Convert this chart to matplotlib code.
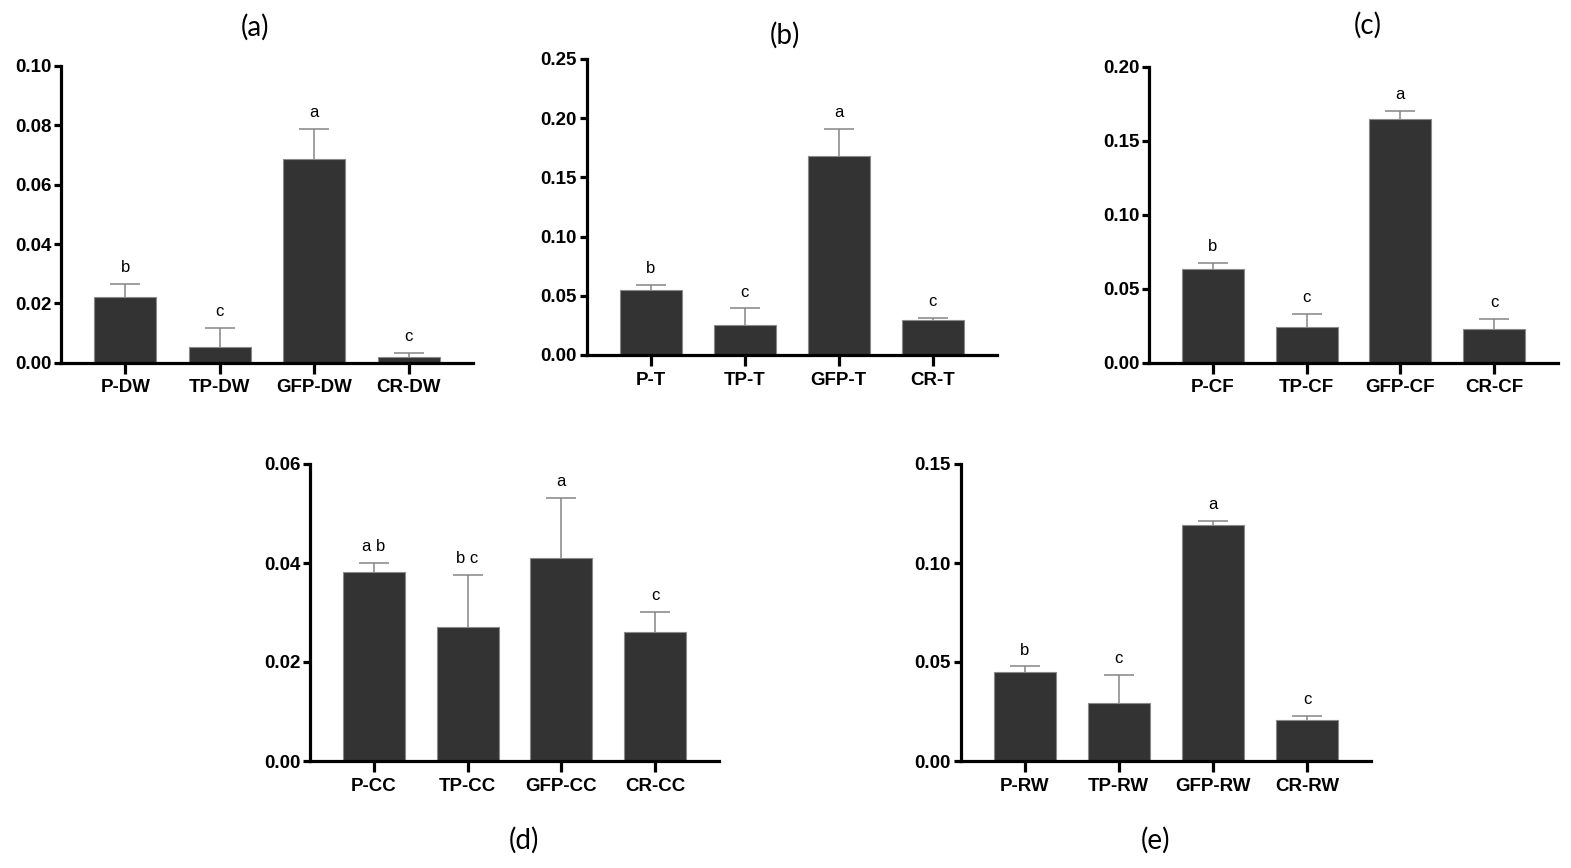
import matplotlib
matplotlib.use("Agg")
import matplotlib.pyplot as plt
import numpy as np

plt.rcParams['font.family'] = ['Liberation Sans', 'DejaVu Sans']

# bar heights and upper error (SEM)
groups_a = ["P-DW", "TP-DW", "GFP-DW", "CR-DW"]
vals_a = [0.0220, 0.0054, 0.0686, 0.0018]
errs_a = [0.0045, 0.0064, 0.0101, 0.0016]
sig_a = ["b", "c", "a", "c"]

groups_b = ["P-T", "TP-T", "GFP-T", "CR-T"]
vals_b = [0.0549, 0.0253, 0.1683, 0.0293]
errs_b = [0.0045, 0.0141, 0.0228, 0.0017]
sig_b = ["b", "c", "a", "c"]

groups_c = ["P-CF", "TP-CF", "GFP-CF", "CR-CF"]
vals_c = [0.0631, 0.0243, 0.1647, 0.0230]
errs_c = [0.0041, 0.0088, 0.0052, 0.0067]
sig_c = ["b", "c", "a", "c"]

groups_d = ["P-CC", "TP-CC", "GFP-CC", "CR-CC"]
vals_d = [0.0382, 0.0271, 0.0411, 0.0261]
errs_d = [0.0019, 0.0105, 0.0121, 0.0040]
sig_d = ["a b", "b c", "a", "c"]

groups_e = ["P-RW", "TP-RW", "GFP-RW", "CR-RW"]
vals_e = [0.0448, 0.0291, 0.1192, 0.0209]
errs_e = [0.0030, 0.0143, 0.0019, 0.0018]
sig_e = ["b", "c", "a", "c"]

W, H = 1571, 868
fig = plt.figure(figsize=(W / 100, H / 100), dpi=100)


def panel(box, groups, vals, errs, sig, ymax, step):
    # box given in pixels: left, right, top, bottom
    x0, x1, yt, yb = box
    ax = fig.add_axes([x0 / W, 1 - yb / H, (x1 - x0) / W, (yb - yt) / H])
    x = np.arange(len(groups))
    eb = ax.errorbar(x, vals, yerr=[np.zeros(len(vals)), errs], fmt='none',
                     ecolor='#858585', elinewidth=1.1, capsize=11,
                     capthick=1.1, zorder=1)
    # only the upper cap is wanted
    eb[1][0].set_visible(False)
    ax.bar(x, vals, width=0.66, color='#333333', edgecolor='#8a8a8a',
           linewidth=0.8, zorder=2)
    for xi, v, e, s in zip(x, vals, errs, sig):
        ax.annotate(s, (xi, v + e), xytext=(0, 8.5), textcoords='offset points',
                    ha='center', va='baseline', fontsize=12)
    ax.set_xlim(-0.68, 3.68)
    ax.set_ylim(0, ymax)
    ax.set_yticks(np.arange(0, ymax + step / 2, step))
    ax.yaxis.set_major_formatter(matplotlib.ticker.FormatStrFormatter('%.2f'))
    ax.set_xticks(x)
    ax.set_xticklabels(groups)
    for sp in ['top', 'right']:
        ax.spines[sp].set_visible(False)
    for sp in ['left', 'bottom']:
        ax.spines[sp].set_linewidth(2.3)
    ax.tick_params(axis='y', length=5, width=2.3, pad=2, labelsize=13.5)
    ax.tick_params(axis='x', length=8, width=2.3, pad=4, labelsize=13.5)
    for lab in ax.get_xticklabels() + ax.get_yticklabels():
        lab.set_fontweight('bold')
    return ax


panel((61, 473, 66, 362.7), groups_a, vals_a, errs_a, sig_a, 0.10, 0.02)
panel((586.7, 996.7, 59, 355), groups_b, vals_b, errs_b, sig_b, 0.25, 0.05)
panel((1149.3, 1557.7, 66.7, 362.7), groups_c, vals_c, errs_c, sig_c, 0.20, 0.05)
panel((310, 719, 464, 761), groups_d, vals_d, errs_d, sig_d, 0.06, 0.02)
panel((960.7, 1371, 464, 761), groups_e, vals_e, errs_e, sig_e, 0.15, 0.05)

# panel letters
titles = ["(a)", "(b)", "(c)", "(d)", "(e)"]
title_pos = [(255, 27), (785, 35), (1368, 25), (524, 840), (1155, 840)]
for t, (px, py) in zip(titles, title_pos):
    fig.text(px / W, 1 - py / H, t, ha='center', va='center', fontsize=20,
             family=['Lato', 'DejaVu Sans'])

fig.savefig("out.png", dpi=100)
